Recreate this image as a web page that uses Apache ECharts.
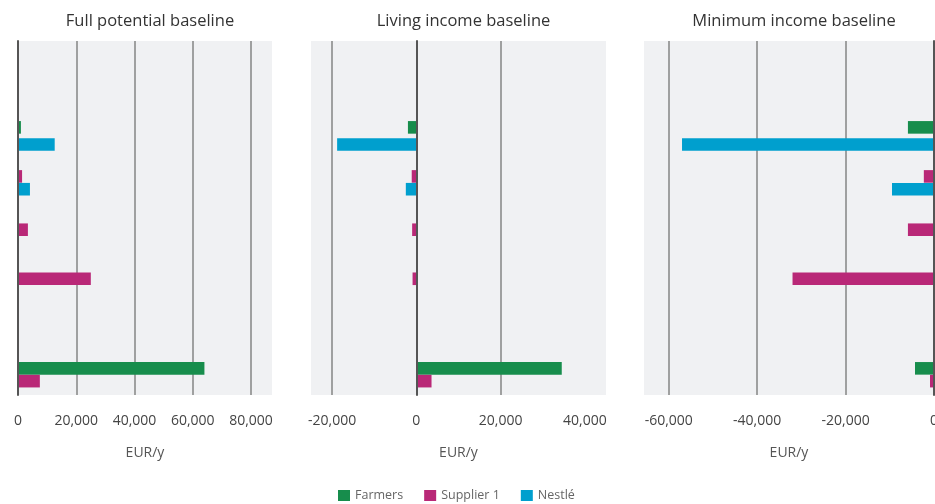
<!DOCTYPE html>
<html><head><meta charset="utf-8">
<script src="https://cdn.jsdelivr.net/npm/echarts@6/dist/echarts.min.js"></script>
<style>html,body{margin:0;padding:0;background:#fff}#c{width:935px;height:504px}</style>
</head><body><div id="c"></div>
<script>
// ---- data ----
const seriesNames = ['Farmers', 'Supplier 1', 'Nestlé'];
const panelTitles = ['Full potential baseline', 'Living income baseline', 'Minimum income baseline'];
const rowCount = 166;                                  // fine row grid of the category axis
const barRows   = [40, 48, 63, 69, 88, 111, 153, 159]; // row of each bar, top to bottom
const barSeries = [0, 2, 1, 2, 1, 1, 0, 1];            // series index of each bar
const fullPotential = [1000, 12600, 1400, 4100, 3400, 25000, 64000, 7500];
const livingIncome  = [-2000, -18800, -1100, -2500, -1000, -900, 34500, 3600];
const minimumIncome = [-5900, -57000, -2300, -9500, -5900, -32000, -4300, -900];
const axisMin = [0, -25000, -65600];
const axisMax = [87200, 45000, 0];
const tickLabels1 = [0, 20000, 40000, 60000, 80000];
const tickLabels2 = [-20000, 0, 20000, 40000];
const tickLabels3 = [-60000, -40000, -20000, 0];
const gridLines1 = [20000, 40000, 60000, 80000];
const gridLines2 = [-20000, 20000];
const gridLines3 = [-60000, -40000, -20000];

// ---- build ----
const panelValues = [fullPotential, livingIncome, minimumIncome];
const tickLabels = [tickLabels1, tickLabels2, tickLabels3];
const gridLines = [gridLines1, gridLines2, gridLines3];
const colors = ['#178d4c', '#b92877', '#009fce'];
const gridBoxes = [{left: 18, width: 254}, {left: 311, width: 295}, {left: 644, width: 290}];
const FONT = 'Open Sans';
const rows = Array.from({length: rowCount}, () => '');

const grid = [], xAxis = [], yAxis = [], title = [], series = [];
gridBoxes.forEach((g, p) => {
  grid.push({left: g.left, width: g.width, top: 41, height: 354, show: true,
    backgroundColor: '#f0f1f3', borderWidth: 0, containLabel: false, outerBoundsMode: 'none'});
  title.push({text: panelTitles[p], left: g.left + g.width / 2, top: 8, textAlign: 'center',
    textStyle: {fontFamily: FONT, fontSize: 16.5, fontWeight: 'normal', color: '#333'}});
  xAxis.push({type: 'value', gridIndex: p, min: axisMin[p], max: axisMax[p],
    axisLine: {show: false},
    axisTick: {show: false, customValues: gridLines[p]},
    axisLabel: {customValues: tickLabels[p], fontFamily: FONT, fontSize: 14, color: '#444', margin: 19},
    splitLine: {show: true, lineStyle: {color: '#858585', width: 1.5}},
    name: 'EUR/y', nameLocation: 'middle', nameGap: 51,
    nameTextStyle: {fontFamily: FONT, fontSize: 14, color: '#555'}});
  yAxis.push({type: 'category', gridIndex: p, data: rows, inverse: true, z: 5,
    axisLabel: {show: false}, axisTick: {show: false}, splitLine: {show: false},
    axisLine: {show: true, onZero: true, lineStyle: {color: '#555', width: 2}}});
  seriesNames.forEach((name, s) => {
    const data = rows.map(() => null);
    barRows.forEach((r, k) => { if (barSeries[k] === s) data[r] = panelValues[p][k]; });
    series.push({type: 'bar', name, xAxisIndex: p, yAxisIndex: p, data,
      barWidth: 12.6, barGap: '-100%', itemStyle: {color: colors[s]}, silent: true});
  });
});

const chart = echarts.init(document.getElementById('c'));
chart.setOption({
  animation: false,
  color: colors,
  title, grid, xAxis, yAxis, series,
  legend: {data: seriesNames, left: 333, top: 484, icon: 'rect', itemWidth: 12, itemHeight: 11,
    itemGap: 21, textStyle: {fontFamily: FONT, fontSize: 12.5, color: '#666'}}
});
</script></body></html>
